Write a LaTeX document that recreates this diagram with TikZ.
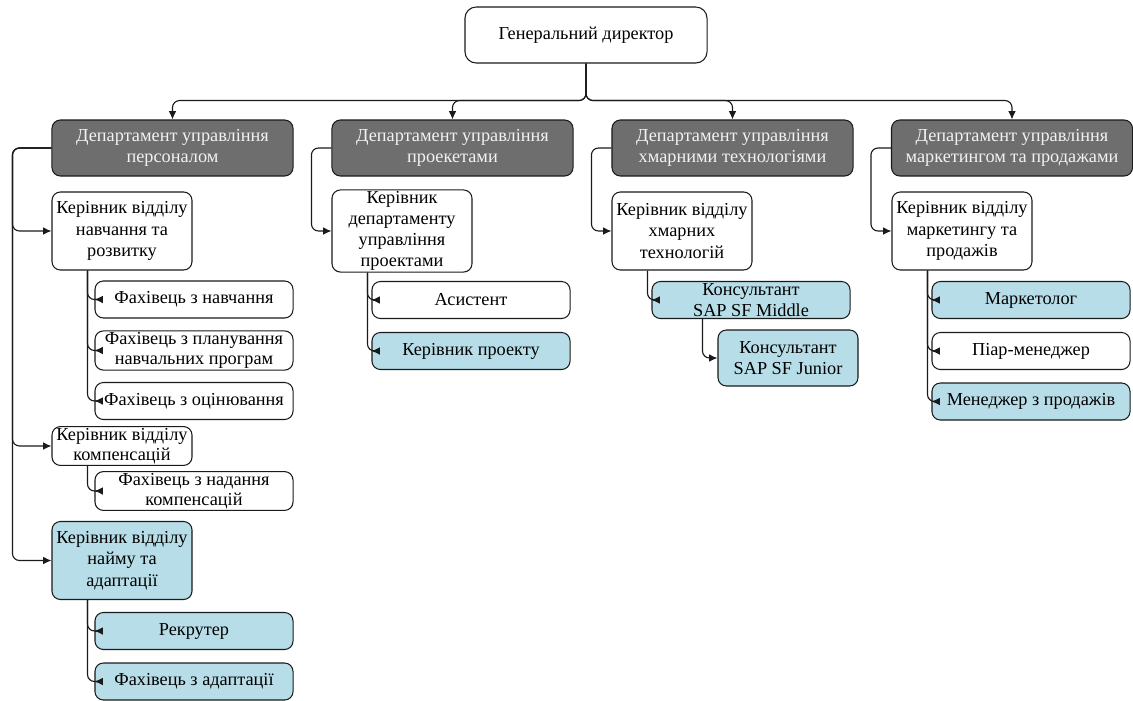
\documentclass[tikz,border=0pt]{standalone}
\usepackage{fontspec}
\setmainfont{Liberation Serif}
\definecolor{orgdark}{HTML}{6E6E6E}
\definecolor{orgblue}{HTML}{B7DEE8}
\definecolor{orgline}{HTML}{1A1A1A}
\usetikzlibrary{arrows.meta, calc}

\begin{document}
\begin{tikzpicture}[x=0.025cm, y=-0.025cm,
    box/.style={draw=orgline, line width=0.75pt, rounded corners=6pt, fill=white, align=center,
                inner sep=1pt, text=black, font=\fontsize{13}{14.5}\selectfont},
    dept/.style={box, fill=orgdark, text=white!95!black, minimum width=6.025cm, minimum height=1.4cm},
    mgr/.style={box, minimum width=3.5cm, minimum height=1.95cm, font=\fontsize{13}{15.5}\selectfont},
    staff/.style={box, minimum width=4.95cm, minimum height=0.925cm},
    hl/.style={fill=orgblue},
    arr/.style={-{Latex[length=6pt,width=5.5pt]}, orgline, line width=0.8pt, rounded corners=5pt}]
    \useasboundingbox (0,0) rectangle (1133,700);
    \node[box, minimum width=6.05cm, minimum height=1.4cm, rounded corners=8pt] (ceo) at (586,35) {Генеральний директор};
    \node[dept] (dpers) at (172.5,148) {Департамент управління\\персоналом};
    \node[dept] (dproj) at (452.5,148) {Департамент управління\\проекетами};
    \node[dept] (dcloud) at (732.5,148) {Департамент управління\\хмарними технологіями};
    \node[dept] (dmark) at (1012,148) {Департамент управління\\маркетингом та продажами};
    \node[mgr] (mtrain) at (122,231) {Керівник відділу\\навчання та\\розвитку};
    \node[mgr, minimum height=0.95cm, font=\fontsize{13}{14.5}\selectfont] (mcomp) at (122,446) {Керівник відділу\\компенсацій};
    \node[mgr, hl] (mhire) at (122,560.5) {Керівник відділу\\найму та\\адаптації};
    \node[mgr, font=\fontsize{13}{15}\selectfont] (mproj) at (402,231) {Керівник\\департаменту\\управління\\проектами};
    \node[mgr] (mcloud) at (682,231) {Керівник відділу\\хмарних\\технологій};
    \node[mgr] (mmark) at (962,231) {Керівник відділу\\маркетингу та\\продажів};
    \node[staff] (strain) at (194,299.5) {Фахівець з навчання};
    \node[staff] (splan) at (194,350.5) {Фахівець з планування\\навчальних програм};
    \node[staff] (seval) at (194,401) {Фахівець з оцінювання};
    \node[staff] (scomp) at (194,491) {Фахівець з надання\\компенсацій};
    \node[staff, hl] (srec) at (194,631) {Рекрутер};
    \node[staff, hl] (sadapt) at (194,681.5) {Фахівець з адаптації};
    \node[staff] (sasst) at (471,300) {Асистент};
    \node[staff, hl] (spm) at (471,351) {Керівник проекту};
    \node[staff, hl] (smid) at (751,300) {Консультант\\SAP SF Middle};
    \node[box, hl, minimum width=3.5cm, minimum height=1.4cm] (sjun) at (788,358) {Консультант\\SAP SF Junior};
    \node[staff, hl] (smkt) at (1031,300) {Маркетолог};
    \node[staff] (spr) at (1031,351) {Піар-менеджер};
    \node[staff, hl] (ssales) at (1031,401.5) {Менеджер з продажів};
    \foreach \d in {dpers, dproj, dcloud, dmark}
      \draw[arr] (ceo.south) -- ++(0,37) -| (\d.north);
    \foreach \d/\m/\o in {dpers/mtrain/39, dpers/mcomp/39, dpers/mhire/39, dproj/mproj/20, dcloud/mcloud/20, dmark/mmark/20}
      \draw[arr] (\d.west) -- ++(-\o,0) |- (\m.west);
    \foreach \m/\s in {mtrain/strain, mtrain/splan, mtrain/seval, mcomp/scomp, mhire/srec, mhire/sadapt,
                       mproj/sasst, mproj/spm, mcloud/smid, mmark/smkt, mmark/spr, mmark/ssales}
      \draw[arr] ([xshift=-0.8625cm]\m.south) |- (\s.west);
    \draw[arr] ([xshift=-1.2125cm]smid.south) |- (sjun.west);
  \end{tikzpicture}
\end{document}
